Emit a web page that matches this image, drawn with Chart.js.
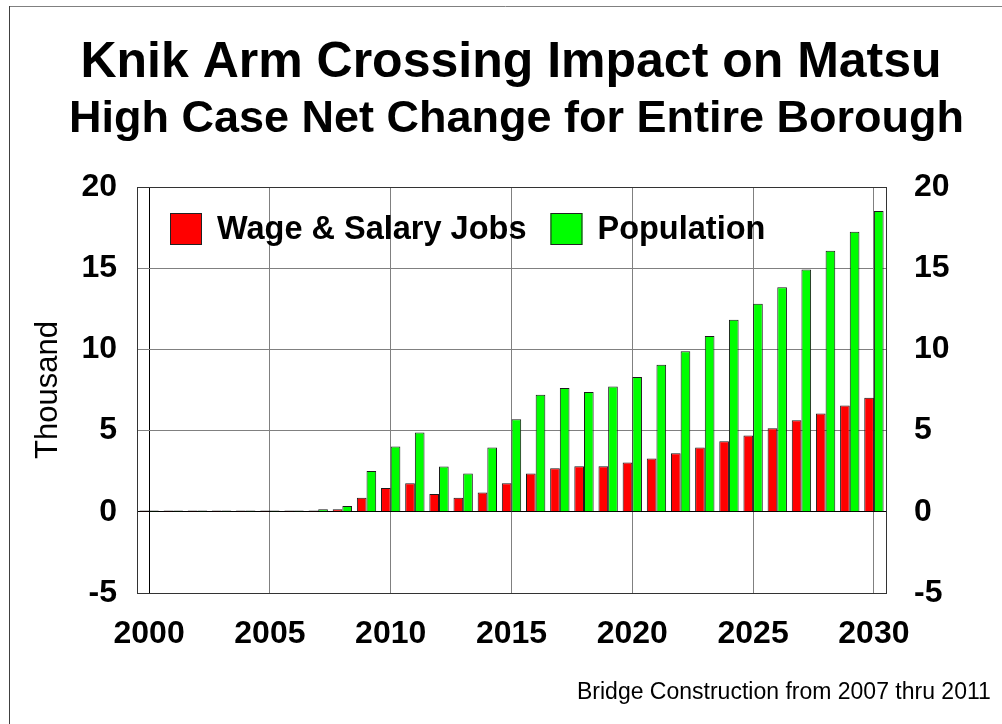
<!DOCTYPE html>
<html lang="en">
<head>
<meta charset="UTF-8">
<title>Knik Arm Crossing Impact on Matsu</title>
<script src="https://cdn.jsdelivr.net/npm/chart.js"></script>
<style>
    body {
        margin: 0;
        background: #ffffff;
    }

    .chart-box {
        position: relative;
        width: 1002px;
        height: 724px;
    }
</style>
</head>
<body>

<div class="chart-box">
    <canvas id="impactChart"></canvas>
</div>

<script>
    // Years on the x axis
    const years = ['2000', '2001', '2002', '2003', '2004', '2005', '2006', '2007', '2008', '2009',
                   '2010', '2011', '2012', '2013', '2014', '2015', '2016', '2017', '2018', '2019',
                   '2020', '2021', '2022', '2023', '2024', '2025', '2026', '2027', '2028', '2029', '2030'];

    // Net change, in thousands
    const wageSalaryJobs = [0.08, 0.08, 0.08, 0.08, 0.08, 0.08, 0.08, 0.08, 0.15, 0.86,
                            1.46, 1.76, 1.09, 0.86, 1.19, 1.76, 2.36, 2.68, 2.81, 2.81,
                            3.03, 3.28, 3.61, 3.96, 4.35, 4.70, 5.14, 5.64, 6.05, 6.54, 7.03];
    const population = [0.08, 0.08, 0.08, 0.08, 0.08, 0.08, 0.08, 0.16, 0.35, 2.52,
                        4.02, 4.88, 2.79, 2.36, 3.96, 5.70, 7.21, 7.62, 7.38, 7.71,
                        8.30, 9.06, 9.88, 10.82, 11.82, 12.81, 13.83, 14.92, 16.08, 17.25, 18.52];

    const yTicks = [-5, 0, 5, 10, 15, 20];

    const FONT = '"Liberation Sans", Arial, sans-serif';
    const tickFont = { family: FONT, size: 32, weight: 'bold' };

    // Titles, footnote, page frame, plot border and the legend
    const decorPlugin = {
        id: 'decor',
        beforeDraw(chart) {
            const ctx = chart.ctx;
            ctx.save();
            ctx.fillStyle = '#ffffff';
            ctx.fillRect(0, 0, chart.width, chart.height);

            ctx.lineWidth = 1;
            ctx.strokeStyle = '#808080';
            ctx.beginPath();
            ctx.moveTo(9, 6.5);
            ctx.lineTo(chart.width, 6.5);
            ctx.stroke();
            ctx.strokeStyle = '#404040';
            ctx.beginPath();
            ctx.moveTo(9.5, 6);
            ctx.lineTo(9.5, chart.height);
            ctx.stroke();

            ctx.fillStyle = '#000000';
            ctx.textAlign = 'center';
            ctx.textBaseline = 'alphabetic';
            ctx.font = 'bold 50px ' + FONT;
            ctx.fillText('Knik Arm Crossing Impact on Matsu', 511, 77);
            ctx.font = 'bold 45px ' + FONT;
            ctx.fillText('High Case Net Change for Entire Borough', 516.5, 132);

            ctx.textAlign = 'left';
            ctx.font = '23px ' + FONT;
            ctx.fillText('Bridge Construction from 2007 thru 2011', 577, 699);
            ctx.restore();
        },
        afterDatasetsDraw(chart) {
            const ctx = chart.ctx;
            const a = chart.chartArea;
            ctx.save();
            ctx.lineWidth = 1;
            ctx.strokeStyle = '#333333';
            ctx.strokeRect(Math.round(a.left) + 0.5, Math.round(a.top) + 0.5,
                           Math.round(a.right - a.left), Math.round(a.bottom - a.top));

            // legend inside the plot
            let x = 170;
            const top = 213, size = 32;
            ctx.font = 'bold 32.5px ' + FONT;
            ctx.textBaseline = 'middle';
            ctx.textAlign = 'left';
            chart.data.datasets.forEach(ds => {
                ctx.fillStyle = ds.backgroundColor;
                ctx.fillRect(x, top, size, size);
                ctx.strokeStyle = '#222222';
                ctx.strokeRect(x + 0.5, top + 0.5, size - 1, size - 1);
                ctx.fillStyle = '#000000';
                const tx = x + size + 15;
                ctx.fillText(ds.label, tx, top + size / 2 + 1);
                x = tx + ctx.measureText(ds.label).width + 24;
            });
            ctx.restore();
        }
    };

    const ctx = document.getElementById('impactChart').getContext('2d');
    const impactChart = new Chart(ctx, {
        type: 'bar',
        data: {
            labels: years,
            datasets: [
                {
                    label: 'Wage & Salary Jobs',
                    data: wageSalaryJobs,
                    backgroundColor: '#ff0000',
                    borderColor: '#1a1a1a',
                    borderWidth: 1
                },
                {
                    label: 'Population',
                    data: population,
                    backgroundColor: '#00ff00',
                    borderColor: '#1a1a1a',
                    borderWidth: 1
                }
            ]
        },
        options: {
            responsive: true,
            maintainAspectRatio: false,
            animation: false,
            layout: {
                padding: { top: 187, bottom: 71, left: 0, right: 0 }
            },
            datasets: {
                bar: {
                    categoryPercentage: 0.8,
                    barPercentage: 1.0
                }
            },
            scales: {
                x: {
                    offset: true,
                    border: { display: false },
                    grid: {
                        offset: false,
                        drawTicks: false,
                        color: c => c.index % 5 !== 0 ? 'rgba(0,0,0,0)' : (c.index === 0 ? '#000000' : '#808080')
                    },
                    ticks: {
                        autoSkip: false,
                        maxRotation: 0,
                        padding: 22,
                        color: '#000000',
                        font: tickFont,
                        callback: function (value, index) {
                            return index % 5 === 0 ? this.getLabelForValue(value) : '';
                        }
                    },
                    afterFit: s => { s.height = 60; }
                },
                y: {
                    position: 'left',
                    min: yTicks[0],
                    max: yTicks[yTicks.length - 1],
                    border: { display: false },
                    grid: {
                        drawTicks: false,
                        color: c => c.tick && c.tick.value === 0 ? '#000000' : '#808080'
                    },
                    afterBuildTicks: s => { s.ticks = yTicks.map(v => ({ value: v })); },
                    ticks: {
                        padding: 20,
                        color: '#000000',
                        font: tickFont
                    },
                    title: {
                        display: true,
                        text: 'Thousand',
                        color: '#000000',
                        font: { family: FONT, size: 31 },
                        padding: { top: 30, bottom: 0 }
                    },
                    afterFit: s => { s.width = 137; }
                },
                y2: {
                    position: 'right',
                    min: yTicks[0],
                    max: yTicks[yTicks.length - 1],
                    border: { display: false },
                    grid: { display: false },
                    afterBuildTicks: s => { s.ticks = yTicks.map(v => ({ value: v })); },
                    ticks: {
                        padding: 20,
                        color: '#000000',
                        font: tickFont
                    },
                    afterFit: s => { s.width = 116; }
                }
            },
            plugins: {
                legend: { display: false },
                tooltip: { enabled: false }
            }
        },
        plugins: [decorPlugin]
    });
</script>

</body>
</html>
